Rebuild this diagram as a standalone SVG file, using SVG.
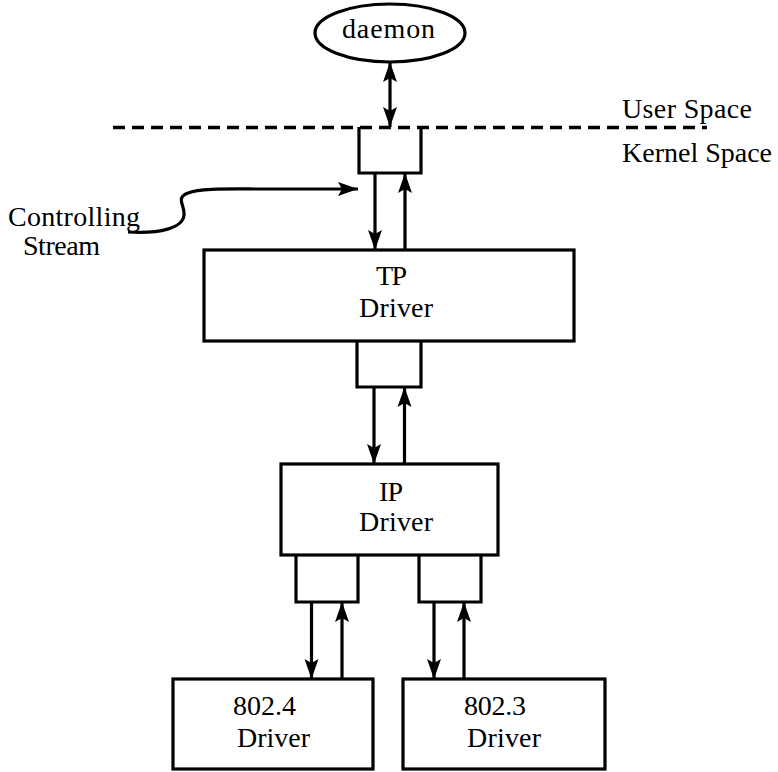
<svg xmlns="http://www.w3.org/2000/svg" width="778" height="772" viewBox="0 0 778 772">
<style>
.box{fill:#fff;stroke:#000;stroke-width:3.2}
.ln{fill:none;stroke:#000;stroke-width:3.2}
.t{font-family:"Liberation Serif","Times New Roman",serif;font-size:28px;fill:#000}
</style>
<defs>
<marker id="ah" markerUnits="userSpaceOnUse" viewBox="-22 -9 24 18" refX="0" refY="0" markerWidth="24" markerHeight="18" orient="auto-start-reverse" overflow="visible">
<path d="M0,0 L-20,-7 L-16,0 L-20,7 Z" fill="#000"/>
</marker>
</defs>
<rect width="778" height="772" fill="#fff"/>

<g id="boundary">
<line x1="113" y1="127.5" x2="707" y2="127.5" stroke="#000" stroke-width="3.5" stroke-dasharray="12 7"/>
<text class="t" x="622" y="118" textLength="130">User Space</text>
<text class="t" x="622" y="162" textLength="150">Kernel Space</text>
</g>

<g id="daemon">
<ellipse cx="390" cy="33" rx="75" ry="29" class="box"/>
<text class="t" x="342" y="38" textLength="93">daemon</text>
</g>

<g id="stream-head">
<path d="M359,127 V173 H421 V127" class="ln"/>
</g>

<g id="controlling-stream-label">
<text class="t" x="8" y="226" textLength="132">Controlling</text>
<text class="t" x="23" y="255" textLength="77">Stream</text>
</g>

<g id="tp-driver">
<rect x="204" y="250" width="370" height="91" class="box"/>
<text class="t" x="376" y="285" textLength="31">TP</text>
<text class="t" x="359" y="317" textLength="74">Driver</text>
</g>

<g id="tp-queue">
<path d="M357,341 V387 H421 V341" class="ln"/>
</g>

<g id="ip-driver">
<rect x="281" y="464" width="217" height="91" class="box"/>
<text class="t" x="379" y="501" textLength="24">IP</text>
<text class="t" x="359" y="531" textLength="74">Driver</text>
</g>

<g id="ip-queue-left">
<path d="M296,555 V602 H358 V555" class="ln"/>
</g>
<g id="ip-queue-right">
<path d="M419,555 V602 H481 V555" class="ln"/>
</g>

<g id="driver-8024">
<rect x="173" y="679" width="200" height="90" class="box"/>
<text class="t" x="233" y="715" textLength="63">802.4</text>
<text class="t" x="237" y="747" textLength="73">Driver</text>
</g>

<g id="driver-8023">
<rect x="403" y="679" width="202" height="90" class="box"/>
<text class="t" x="464" y="715" textLength="62">802.3</text>
<text class="t" x="467" y="747" textLength="74">Driver</text>
</g>

<g id="connectors">
<line x1="390" y1="62" x2="390" y2="127" class="ln" marker-start="url(#ah)" marker-end="url(#ah)"/>
<line x1="375" y1="173" x2="375" y2="250" class="ln" marker-end="url(#ah)"/>
<line x1="405" y1="250" x2="405" y2="173" class="ln" marker-end="url(#ah)"/>
<path d="M128,232 C160,234 183,228 184,215 C185,205 175,198 188,193 C200,188 230,189 260,189 L358,189" class="ln" marker-end="url(#ah)"/>
<line x1="374" y1="387" x2="374" y2="464" class="ln" marker-end="url(#ah)"/>
<line x1="404.5" y1="464" x2="404.5" y2="387" class="ln" marker-end="url(#ah)"/>
<line x1="311.5" y1="602" x2="311.5" y2="679" class="ln" marker-end="url(#ah)"/>
<line x1="342" y1="679" x2="342" y2="602" class="ln" marker-end="url(#ah)"/>
<line x1="434" y1="602" x2="434" y2="679" class="ln" marker-end="url(#ah)"/>
<line x1="464" y1="679" x2="464" y2="602" class="ln" marker-end="url(#ah)"/>
</g>
</svg>
